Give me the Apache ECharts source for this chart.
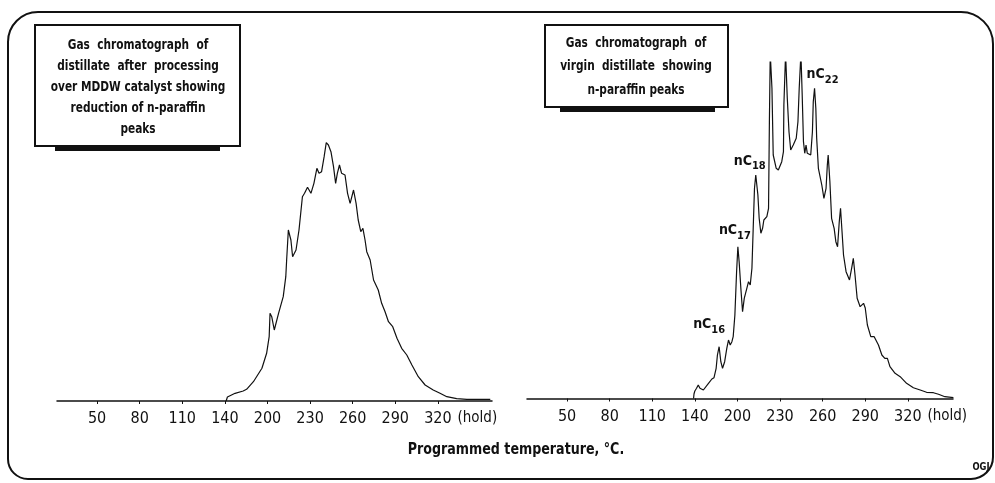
<!DOCTYPE html>
<html>
<head>
<meta charset="UTF-8">
<title>Gas chromatographs</title>
<script src="https://cdn.jsdelivr.net/npm/echarts@6.0.0/dist/echarts.min.js"></script>
<style>
  html, body { margin: 0; padding: 0; background: #fff; }
  #chart { width: 995px; height: 483px; }
</style>
</head>
<body>
<div id="chart"></div>
<script>
// x positions are in tick units: 0 = 50 degC tick, 8 = 320 degC tick
var tickLabels = ['50', '80', '110', '140', '200', '230', '260', '290', '320'];

// processed distillate (left panel)
var leftPos = [3.03, 3.06, 3.08, 3.24, 3.43, 3.51, 3.67, 3.87, 3.98, 4.04,
  4.06, 4.10, 4.16, 4.26, 4.37, 4.43, 4.45, 4.49, 4.55, 4.59,
  4.67, 4.74, 4.82, 4.87, 4.94, 5.02, 5.09, 5.16, 5.21, 5.27,
  5.33, 5.38, 5.43, 5.49, 5.55, 5.60, 5.64, 5.69, 5.74, 5.82,
  5.88, 5.94, 6.02, 6.08, 6.13, 6.19, 6.24, 6.29, 6.33, 6.41,
  6.49, 6.60, 6.68, 6.76, 6.84, 6.94, 7.04, 7.15, 7.27, 7.39,
  7.54, 7.70, 7.89, 8.05, 8.21, 8.44, 8.68, 9.23];
var leftSignal = [0, 4, 4.3, 7.7, 10, 11.7, 19.3, 32.7, 47.7, 64.3,
  87.7, 84.3, 71, 87.7, 104.3, 124.3, 141, 171, 161, 144.3,
  151, 171, 204.3, 207.7, 213.7, 207.7, 217.7, 232.7, 227.7, 229.3,
  244.3, 258.3, 256, 249.3, 234.3, 217.7, 227.7, 236, 227.7, 226,
  207.7, 197.7, 211, 197.7, 181, 169.3, 172.7, 161, 149.3, 141,
  121, 111, 97.7, 89.3, 79.3, 74.3, 62.7, 52.7, 46, 36,
  24.3, 16, 11, 7.7, 4.3, 2.3, 1.7, 1.7];

// virgin distillate (right panel)
var rightPos = [2.97, 2.98, 3.00, 3.04, 3.08, 3.12, 3.20, 3.32, 3.40, 3.45,
  3.50, 3.53, 3.57, 3.61, 3.65, 3.70, 3.75, 3.79, 3.83, 3.87,
  3.90, 3.94, 3.98, 4.01, 4.04, 4.08, 4.12, 4.16, 4.22, 4.26,
  4.30, 4.34, 4.37, 4.40, 4.43, 4.48, 4.51, 4.55, 4.59, 4.62,
  4.69, 4.73, 4.75, 4.77, 4.81, 4.84, 4.91, 4.96, 5.04, 5.08,
  5.09, 5.13, 5.17, 5.21, 5.25, 5.31, 5.38, 5.42, 5.45, 5.49,
  5.52, 5.55, 5.58, 5.61, 5.64, 5.72, 5.76, 5.78, 5.81, 5.84,
  5.86, 5.90, 5.98, 6.03, 6.08, 6.11, 6.13, 6.17, 6.21, 6.27,
  6.31, 6.35, 6.39, 6.42, 6.45, 6.49, 6.55, 6.63, 6.68, 6.72,
  6.76, 6.81, 6.88, 6.96, 7.00, 7.05, 7.13, 7.21, 7.25, 7.31,
  7.39, 7.46, 7.52, 7.58, 7.70, 7.82, 7.97, 8.13, 8.29, 8.44,
  8.60, 8.72, 8.87, 9.07];
var rightSignal = [0, 4.5, 7.5, 10.2, 13.5, 10.2, 8.5, 15.2, 19.5, 20.8,
  30.2, 43.5, 51.8, 36.8, 30.2, 36.8, 50.2, 58.5, 53.5, 56.8,
  61.8, 83.5, 126.8, 151.8, 136.8, 110.2, 86.8, 100.2, 110.2, 116.8,
  113.5, 130.2, 170.2, 210.2, 223.5, 203.5, 180.2, 165.2, 170.2, 178.5,
  181.8, 190.2, 276.8, 345, 310.2, 243.5, 230.2, 228.5, 236.8, 246.8,
  293.5, 345, 300.2, 266.8, 248.5, 253.5, 260.2, 276.8, 310.2, 345,
  303.5, 256.8, 245.2, 253.5, 245.2, 243.5, 266.8, 296.8, 310.2, 290.2,
  260.2, 230.2, 213.5, 200.2, 210.2, 233.5, 243.5, 216.8, 180.2, 170.2,
  156.8, 151.8, 176.8, 190.2, 170.2, 143.5, 126.8, 118.5, 130.2, 140.2,
  123.5, 100.2, 91.8, 95.2, 90.5, 73.5, 61.8, 61.8, 63.5, 53.5,
  43.5, 40.2, 40.2, 31.8, 25.2, 21.8, 15.2, 10.8, 8.5, 6.2,
  5.8, 4.2, 1.8, 0.8];

// n-paraffin peaks marked on the virgin distillate
var peakCarbons = ['16', '17', '18', '22'];
var peakPos = [3.57, 4.01, 4.43, 5.81];

var FONT = "'DejaVu Sans Condensed', 'DejaVu Sans', sans-serif";
var INK = '#111';
var tickIdx = [0, 1, 2, 3, 4, 5, 6, 7, 8];
var yTop = 336.5;

function pairs(xs, ys) {
  return xs.map(function (x, i) { return [x, ys[i]]; });
}

function xAxisFor(grid, max, gap) {
  return {
    type: 'value', gridIndex: grid, min: -0.94, max: max,
    axisLine: { lineStyle: { color: INK, width: 1.5 } },
    axisTick: { length: 3, customValues: tickIdx, lineStyle: { color: INK, width: 1 } },
    axisLabel: {
      customValues: tickIdx, margin: 10, color: INK, fontSize: 16, fontFamily: FONT,
      formatter: function (v) { return tickLabels[Math.round(v)]; }
    },
    splitLine: { show: false },
    name: '(hold)', nameLocation: 'end', nameGap: gap,
    nameTextStyle: { color: INK, fontSize: 15, fontFamily: FONT, align: 'right', verticalAlign: 'top', padding: [10, 0, 0, 0] }
  };
}

// squeezed bold text, like the condensed face of the original
function note(x, y, text, size, lh, sx, align, va) {
  return {
    type: 'text', x: x, y: y, scaleX: sx,
    style: { text: text, fontFamily: FONT, fontSize: size, fontWeight: 'bold', lineHeight: lh,
      align: align || 'center', verticalAlign: va || 'top', fill: INK }
  };
}

var offsets = [[-10, -20], [-3, -14], [-6, -12], [8, -12]];
var peakMarks = peakPos.map(function (p, k) {
  var v = rightSignal[rightPos.indexOf(p)];
  return {
    coord: [p, v],
    label: { offset: offsets[k], formatter: '{n|nC}{s|' + peakCarbons[k] + '}' }
  };
});

var chart = echarts.init(document.getElementById('chart'));
chart.setOption({
  animation: false,
  grid: [
    { left: 57, width: 435, top: 401 - yTop, height: yTop },
    { left: 527, width: 426, top: 398.5 - yTop, height: yTop }
  ],
  xAxis: [xAxisFor(0, 9.27, 0), xAxisFor(1, 9.06, 11)],
  yAxis: [
    { type: 'value', gridIndex: 0, min: 0, max: yTop, show: false },
    { type: 'value', gridIndex: 1, min: 0, max: yTop, show: false }
  ],
  series: [
    {
      type: 'line', xAxisIndex: 0, yAxisIndex: 0, data: pairs(leftPos, leftSignal),
      showSymbol: false, lineStyle: { color: INK, width: 1.2 }
    },
    {
      type: 'line', xAxisIndex: 1, yAxisIndex: 1, data: pairs(rightPos, rightSignal),
      showSymbol: false, clip: true, lineStyle: { color: INK, width: 1.2 },
      markPoint: {
        symbol: 'circle', symbolSize: 1, itemStyle: { color: 'rgba(0,0,0,0)' },
        label: {
          show: true, position: 'inside', color: INK,
          rich: {
            n: { fontSize: 14, fontWeight: 'bold', fontFamily: FONT, color: INK, verticalAlign: 'top', lineHeight: 18 },
            s: { fontSize: 11, fontWeight: 'bold', fontFamily: FONT, color: INK, verticalAlign: 'bottom', lineHeight: 18 }
          }
        },
        data: peakMarks
      }
    }
  ],
  graphic: [
    { type: 'rect', shape: { x: 8, y: 12, width: 985, height: 467, r: [30, 32, 22, 20] },
      style: { fill: 'none', stroke: INK, lineWidth: 2 } },
    { type: 'rect', shape: { x: 55, y: 146, width: 165, height: 5 }, style: { fill: INK } },
    { type: 'rect', shape: { x: 35, y: 25, width: 205, height: 121 },
      style: { fill: '#fff', stroke: INK, lineWidth: 2 } },
    note(138, 34.5, 'Gas  chromatograph  of\ndistillate  after  processing\nover MDDW catalyst showing\nreduction of n-paraffin\npeaks', 14, 21, 0.84),
    { type: 'rect', shape: { x: 560, y: 107, width: 155, height: 5 }, style: { fill: INK } },
    { type: 'rect', shape: { x: 545, y: 25, width: 183, height: 82 },
      style: { fill: '#fff', stroke: INK, lineWidth: 2 } },
    note(636, 31.7, 'Gas  chromatograph  of\nvirgin  distillate  showing\nn-paraffin peaks', 14, 23.3, 0.84),
    note(516, 450, 'Programmed temperature, \u00b0C.', 16, 20, 0.88, 'center', 'middle'),
    note(981, 467, 'OGJ', 11, 14, 0.85, 'center', 'middle')
  ]
});
</script>
</body>
</html>
